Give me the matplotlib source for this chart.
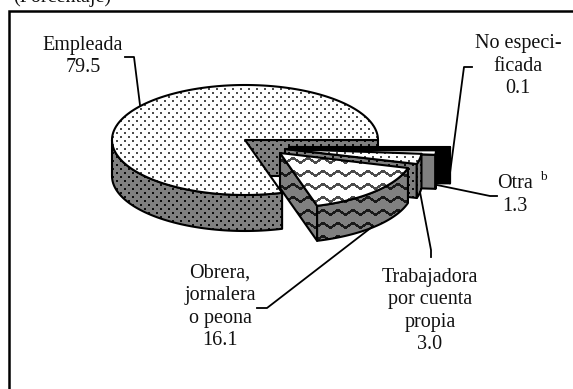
import numpy as np
import matplotlib
matplotlib.use('Agg')
import matplotlib.pyplot as plt
from matplotlib.path import Path
from matplotlib.patches import PathPatch

W, H = 573, 389

categories = ['Empleada', 'Obrera, jornalera o peona', 'Trabajadora por cuenta propia',
              'Otra', 'No especificada']
values = [79.5, 16.1, 3.0, 1.3, 0.1]
labels = ['Empleada\n79.5', 'Obrera,\njornalera\no peona\n16.1',
          'Trabajadora\npor cuenta\npropia\n3.0', 'Otra\n1.3', 'No especi-\nficada\n0.1']
subtitle = '(Porcentaje)'

plt.rcParams['font.family'] = ['Liberation Serif', 'DejaVu Serif']

fig = plt.figure(figsize=(W / 100, H / 100), dpi=100)
ax = fig.add_axes([0, 0, 1, 1])
ax.set_xlim(0, W)
ax.set_ylim(H, 0)
ax.axis('off')


# pixel textures for the fills
def dots(bg, fg):
    img = np.full((H, W), bg, dtype=float)
    yy, xx = np.mgrid[0:H, 0:W]
    hit = ((yy % 8 < 2) & (xx % 8 < 2)) | (((yy + 4) % 8 < 2) & ((xx + 4) % 8 < 2))
    img[hit] = fg
    return img


def waves(bg, fg):
    yy, xx = np.mgrid[0:H, 0:W]
    tri = np.abs((xx % 15) / 7.5 - 1) * 5
    img = np.full((H, W), bg, dtype=float)
    img[(yy - tri) % 13 < 2.8] = fg
    return img


def solid(v):
    return np.full((H, W), v, dtype=float)


def fill(verts, tex):
    verts = np.asarray(verts)
    path = Path(np.vstack([verts, verts[0]]), closed=True)
    outline = PathPatch(path, fc='none', ec='black', lw=1.5, joinstyle='round')
    ax.add_patch(outline)
    im = ax.imshow(tex, cmap='gray', vmin=0, vmax=1, extent=(0, W, H, 0),
                   interpolation='bilinear', aspect='auto', zorder=outline.get_zorder() - 0.01)
    im.set_clip_path(outline)
    outline.set_zorder(im.get_zorder() + 0.01)
    return outline


z = [2]


def draw(verts, tex):
    p = fill(verts, tex)
    z[0] += 1
    p.set_zorder(z[0] + 0.5)
    ax.images[-1].set_zorder(z[0])


def rim(cx, cy, rx, ry, a0, a1, n=60):
    t = np.radians(np.linspace(a0, a1, n))
    return np.column_stack([cx + rx * np.cos(t), cy - ry * np.sin(t)])


def side(cx, cy, rx, ry, a0, a1, d):
    top = rim(cx, cy, rx, ry, a0, a1)
    return np.vstack([top, top[::-1] + [0, d]])


def wall(cx, cy, rx, ry, a, d):
    p = rim(cx, cy, rx, ry, a, a, 1)[0]
    return [(cx, cy), tuple(p), (p[0], p[1] + d), (cx, cy + d)]


# angles: first slice runs counter-clockwise from 0, the rest close the circle
span = np.array(values) / sum(values) * 360
main_end = span[0]
ry = 55

# main slice
cx, cy, rx, depth = 245, 140, 133, 36
light_dots, dark_dots = dots(1.0, 0.3), dots(0.5, 0.05)
draw(wall(cx, cy, rx, ry, 0, depth), dark_dots)
draw(side(cx, cy, rx, ry, 180, main_end, depth), dark_dots)
draw(np.vstack([[(cx, cy)], rim(cx, cy, rx, ry, 0, main_end, 200)]), light_dots)

# exploded slices, back to front
# index, apex x, apex y, radius x, depth, top texture, side texture
pieces = [
    (4, 289, 147, 161, 36, solid(0.0), solid(0.0)),
    (3, 288, 150, 148, 34, solid(1.0), solid(0.5)),
    (2, 285, 149, 137, 34, dots(1.0, 0.3), dots(0.5, 0.05)),
    (1, 280, 153, 133, 35, waves(1.0, 0.3), waves(0.5, 0.1)),
]
edges = main_end + np.cumsum(span[1:]) - 360
starts = np.concatenate([[main_end - 360], edges[:-1]])
for i, ax_, ay_, rx_, d_, top_tex, side_tex in pieces:
    a0, a1 = starts[i - 1], edges[i - 1]
    draw(wall(ax_, ay_, rx_, ry, a0, d_), side_tex)
    draw(side(ax_, ay_, rx_, ry, a0, a1, d_), side_tex)
    draw(np.vstack([[(ax_, ay_)], rim(ax_, ay_, rx_, ry, a0, a1)]), top_tex)

# frame (only top and left in the crop)
ax.plot([9, 9, W], [H, 11, 11], color='black', lw=1.8, solid_joinstyle='miter', zorder=50)

# leader lines
leaders = [
    [(125, 57), (134, 57), (140, 105)],
    [(257, 308), (267, 308), (372, 227)],
    [(420, 192), (431, 250), (431, 257)],
    [(437, 185), (490, 196), (497, 196)],
    [(472, 67), (464, 67), (450, 173)],
]
for pts in leaders:
    xs, ys = zip(*pts)
    ax.plot(xs, ys, color='black', lw=1.3, zorder=49)

# text
fs = 14.5
label_pos = [(83, 56.5), (220, 307), (430, 311), (515, 195), (518, 66)]
for txt, (x, y) in zip(labels, label_pos):
    ax.text(x, y, txt, ha='center', va='center', fontsize=fs, linespacing=1.26, color='#111111', zorder=60)
ax.text(543, 177, 'b', ha='center', va='center', fontsize=9.5, color='#111111', zorder=60)
ax.text(13, 1.5, subtitle, ha='left', va='baseline', fontsize=fs, color='#111111', zorder=60)

ax.set_xlim(0, W)
ax.set_ylim(H, 0)
fig.savefig('out.png', dpi=100)
